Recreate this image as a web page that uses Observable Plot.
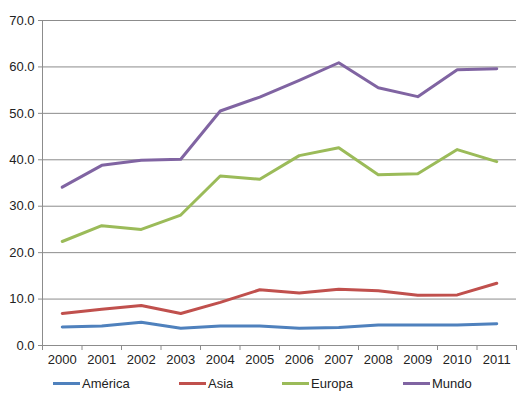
<!DOCTYPE html>
<html>
<head>
<meta charset="utf-8">
<script src="https://cdn.jsdelivr.net/npm/d3@7"></script>
<script src="https://cdn.jsdelivr.net/npm/@observablehq/plot@0.6"></script>
<style>
  body { margin: 0; background: #fff; font-family: "Liberation Sans", Arial, sans-serif; }
  #wrap { position: relative; width: 525px; height: 408px; }
  .item { position: absolute; top: 376px; display: flex; align-items: center; font-size: 13px; color: #222; }
  .item span.linea { display: inline-block; width: 27px; height: 3px; margin-right: 2px; }
</style>
</head>
<body>
<div id="wrap">
  <div id="chart"></div>
  <div id="leyenda"></div>
</div>
<script>
// datos
const anios = [2000, 2001, 2002, 2003, 2004, 2005, 2006, 2007, 2008, 2009, 2010, 2011];
const america = [4.0, 4.2, 5.0, 3.7, 4.2, 4.2, 3.7, 3.9, 4.4, 4.4, 4.4, 4.7];
const asia = [6.9, 7.8, 8.6, 6.9, 9.3, 12.0, 11.3, 12.1, 11.8, 10.8, 10.9, 13.4];
const europa = [22.4, 25.8, 25.0, 28.1, 36.5, 35.8, 40.9, 42.6, 36.8, 37.0, 42.2, 39.6];
const mundo = [34.1, 38.8, 39.9, 40.1, 50.5, 53.5, 57.1, 60.9, 55.5, 53.6, 59.4, 59.6];
const series = ['América', 'Asia', 'Europa', 'Mundo'];
const colores = ['#4F81BD', '#C0504D', '#9BBB59', '#8064A2'];
const ticksY = [0, 10, 20, 30, 40, 50, 60, 70];

const datos = [america, asia, europa, mundo].flatMap((vals, i) =>
  vals.map((v, j) => ({serie: series[i], anio: anios[j], valor: v})));

// límites entre categorías (estilo Excel)
const bordes = anios.map((a) => a - 0.5).concat([anios[anios.length - 1] + 0.5]);
const gris = '#8c8c8c';

let chart = Plot.plot({
  width: 525,
  height: 370,
  marginLeft: 42,
  marginRight: 9,
  marginTop: 20,
  marginBottom: 25,
  style: {fontFamily: '"Liberation Sans", Arial, sans-serif', fontSize: '13px', color: '#222', background: '#fff'},
  x: {domain: [bordes[0], bordes[bordes.length - 1]]},
  y: {domain: [0, 70]},
  color: {domain: series, range: colores},
  marks: [
    Plot.gridY(ticksY.slice(1), {stroke: gris, strokeOpacity: 1}),
    Plot.axisY(ticksY, {tickSize: 4, tickPadding: 4, tickFormat: d3.format('.1f'), stroke: gris, fill: '#222', label: null}),
    Plot.axisX(bordes, {tickSize: 5, tickFormat: () => '', stroke: gris, label: null}),
    Plot.axisX(anios, {tickSize: 0, tickPadding: 9, tickFormat: (d) => String(d), fill: '#222', label: null}),
    Plot.ruleX([bordes[0]], {stroke: gris}),
    Plot.ruleY([0], {stroke: gris}),
    Plot.line(datos, {x: 'anio', y: 'valor', stroke: 'serie', strokeWidth: 3})
  ]
});

d3.select('#chart').append(() => chart);

/* leyenda abajo */
const posLeyenda = [53, 179, 282, 403];
d3.select('#leyenda').selectAll('div')
  .data(series)
  .join('div')
  .attr('class', 'item')
  .style('left', (d, i) => posLeyenda[i] + 'px')
  .html((d, i) => `<span class="linea" style="background:${colores[i]}"></span>${d}`);
</script>
</body>
</html>
